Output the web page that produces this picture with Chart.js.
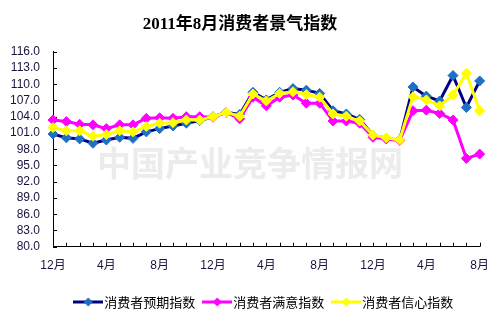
<!DOCTYPE html>
<html>
<head>
<meta charset="utf-8">
<script src="https://cdn.jsdelivr.net/npm/chart.js@4.4.1/dist/chart.umd.min.js"></script>
<style>
    html, body { margin: 0; padding: 0; background: #fff; }
    canvas { display: block; }
</style>
</head>
<body>
<canvas id="sentimentChart" width="501" height="323"></canvas>
<script>
// Months, Dec 2008 .. Aug 2011
const months = ['12月', '1月', '2月', '3月', '4月', '5月', '6月', '7月', '8月', '9月', '10月', '11月',
                '12月', '1月', '2月', '3月', '4月', '5月', '6月', '7月', '8月', '9月', '10月', '11月',
                '12月', '1月', '2月', '3月', '4月', '5月', '6月', '7月', '8月'];

const expectIndex = [100.8, 100.1, 99.9, 99.1, 99.7, 100.2, 100.0, 101.2, 101.8, 102.3, 102.8, 103.3,
                     104.0, 104.8, 104.4, 108.5, 107.1, 108.5, 109.2, 108.9, 108.3, 105.1, 104.5, 103.5,
                     100.6, 100.0, 99.7, 109.5, 107.8, 106.9, 111.6, 105.7, 110.6];
const satisfyIndex = [103.4, 103.1, 102.6, 102.5, 101.8, 102.5, 102.5, 103.7, 103.8, 103.7, 104.0, 104.0,
                      103.9, 104.8, 103.6, 107.6, 106.0, 107.6, 108.0, 106.5, 106.5, 103.2, 103.2, 102.8,
                      100.2, 99.9, 99.6, 105.1, 105.2, 104.6, 103.4, 96.3, 97.1];
const confidenceIndex = [102.0, 101.4, 101.4, 100.4, 100.7, 101.4, 101.2, 102.2, 102.8, 102.9, 103.4, 103.4,
                         104.0, 104.8, 104.1, 108.2, 106.9, 108.3, 108.6, 108.1, 107.6, 104.5, 104.1, 103.2,
                         100.6, 100.1, 99.7, 107.7, 107.1, 106.0, 108.0, 112.0, 105.1];

const seriesNames = ['消费者预期指数', '消费者满意指数', '消费者信心指数'];
const yMin = 80, yMax = 116, yStep = 3;
const labelEvery = 4;

const lineColors = ['#000080', '#ff00ff', '#ffff00'];
const markerColors = ['#1f6fc4', '#ff00ff', '#ffff00'];
const tickColor = '#1c1240';

// legend symbol: line with a diamond in the middle
function legendIcon(lineColor, markerColor) {
    const c = document.createElement('canvas');
    c.width = 30;
    c.height = 12;
    const g = c.getContext('2d');
    g.strokeStyle = lineColor;
    g.lineWidth = 3;
    g.beginPath();
    g.moveTo(0, 6);
    g.lineTo(30, 6);
    g.stroke();
    g.fillStyle = markerColor;
    g.beginPath();
    g.moveTo(15, 1.5);
    g.lineTo(19.5, 6);
    g.lineTo(15, 10.5);
    g.lineTo(10.5, 6);
    g.closePath();
    g.fill();
    return c;
}
const legendIcons = lineColors.map((c, i) => legendIcon(c, markerColors[i]));

// watermark + inward tick marks
const decorPlugin = {
    id: 'decor',
    beforeDatasetsDraw(chart) {
        const ctx = chart.ctx;
        const xs = chart.scales.x, ys = chart.scales.y;
        ctx.save();
        ctx.fillStyle = '#ececec';
        ctx.font = 'bold 34px "Noto Sans CJK SC", sans-serif';
        ctx.textAlign = 'center';
        ctx.textBaseline = 'middle';
        ctx.fillText('中国产业竞争情报网', 250, 163);

        ctx.strokeStyle = '#000';
        ctx.lineWidth = 1;
        ctx.beginPath();
        for (let v = yMin; v <= yMax; v += yStep) {
            const y = Math.round(ys.getPixelForValue(v)) + 0.5;
            ctx.moveTo(xs.left, y);
            ctx.lineTo(xs.left + 4, y);
        }
        for (let i = 0; i < months.length; i++) {
            const x = Math.round(xs.getPixelForValue(i)) + 0.5;
            ctx.moveTo(x, ys.bottom);
            ctx.lineTo(x, ys.bottom - 4);
        }
        ctx.stroke();
        ctx.restore();
    },
    afterLayout(chart) {
        // nudge the legend row to where the original sits
        chart.legend.left += 26;
        chart.legend.right += 26;
    }
};

function makeSet(i, data, order) {
    return {
        label: seriesNames[i],
        data: data,
        borderColor: lineColors[i],
        backgroundColor: markerColors[i],
        borderWidth: 3,
        pointStyle: 'rectRot',
        pointRadius: 5,
        pointBackgroundColor: markerColors[i],
        pointBorderColor: markerColors[i],
        pointBorderWidth: 1,
        tension: 0,
        order: order
    };
}

const tickFont = { family: '"Liberation Sans", Arial, "Noto Sans CJK SC", sans-serif', size: 12 };

new Chart(document.getElementById('sentimentChart'), {
    type: 'line',
    data: {
        labels: months,
        datasets: [
            makeSet(0, expectIndex, 3),
            makeSet(1, satisfyIndex, 2),
            makeSet(2, confidenceIndex, 1)
        ]
    },
    options: {
        responsive: false,
        animation: false,
        devicePixelRatio: 1,
        layout: { padding: { left: 0, right: 21, top: 0, bottom: 4.5 } },
        plugins: {
            title: {
                display: true,
                text: '2011年8月消费者景气指数',
                color: '#000',
                font: { family: '"Liberation Serif", "Times New Roman", "Noto Sans CJK SC", serif', size: 17, weight: 'bold' },
                padding: { top: 14, bottom: 17.3 }
            },
            legend: {
                position: 'bottom',
                labels: {
                    usePointStyle: true,
                    pointStyleWidth: 19,
                    padding: 12.5,
                    color: '#000',
                    font: { family: '"Noto Sans CJK SC", sans-serif', size: 13 },
                    generateLabels(chart) {
                        return chart.data.datasets.map((ds, i) => ({
                            text: ds.label,
                            pointStyle: legendIcons[i],
                            fillStyle: markerColors[i],
                            strokeStyle: lineColors[i],
                            lineWidth: 0,
                            hidden: false,
                            datasetIndex: i
                        }));
                    }
                }
            },
            tooltip: { enabled: false }
        },
        scales: {
            x: {
                offset: false,
                grid: { display: false, drawTicks: false },
                border: { display: true, color: '#000', width: 1 },
                ticks: {
                    autoSkip: false,
                    maxRotation: 0,
                    padding: 12,
                    color: tickColor,
                    font: tickFont,
                    callback: (v, i) => (i % labelEvery === 0 ? months[i] : '')
                },
                afterFit(scale) { scale.height = 36.3; }
            },
            y: {
                min: yMin,
                max: yMax,
                grid: { display: false, drawTicks: false },
                border: { display: true, color: '#000', width: 1 },
                ticks: {
                    stepSize: yStep,
                    autoSkip: false,
                    padding: 13,
                    color: tickColor,
                    font: tickFont,
                    callback: v => v.toFixed(1)
                },
                afterFit(scale) { scale.width = 53; }
            }
        }
    },
    plugins: [decorPlugin]
});
</script>
</body>
</html>
